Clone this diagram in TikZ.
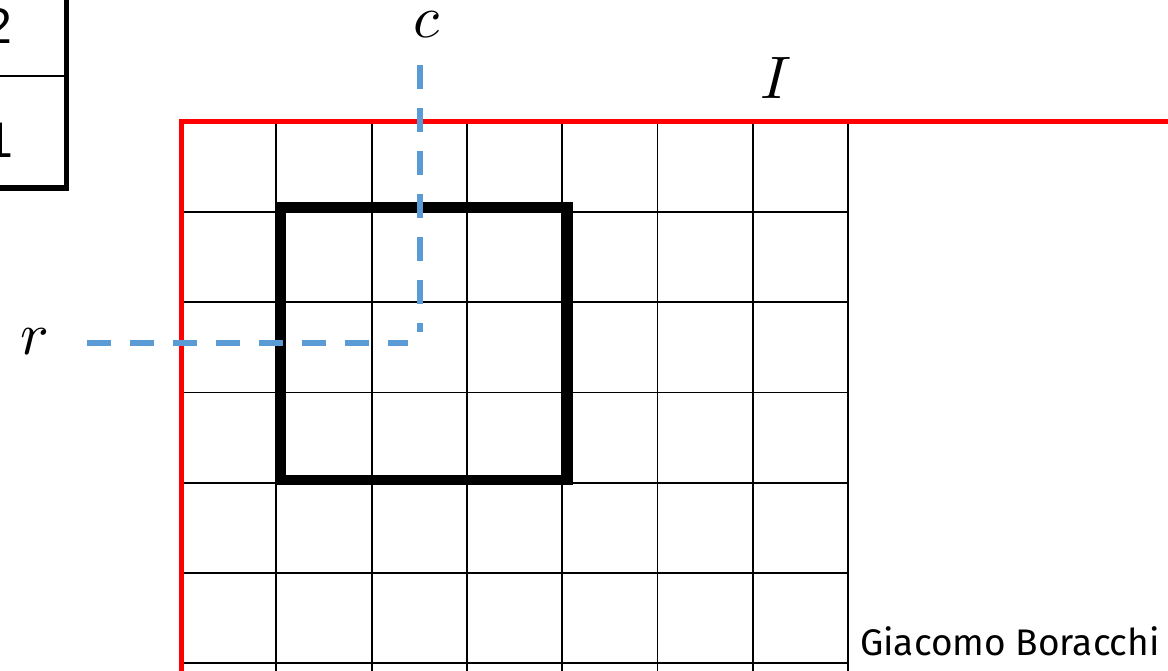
\documentclass[tikz,border=0pt]{standalone}
\usepackage{fontspec}
\usepackage{unicode-math}
\setmathfont{Latin Modern Math}
\usepackage{xcolor}
\usepackage{tikz}
\newfontfamily\namefont{Fira Sans}
\newfontfamily\cellfont{Liberation Sans}
\definecolor{scanblue}{HTML}{5B9BD5}
\tikzset{
  gridline/.style={black, line width=1.8pt},
  imgborder/.style={red, line width=5pt},
  window/.style={black, line width=10pt},
  scanline/.style={scanblue, line width=5.5pt, dash pattern=on 24pt off 19pt},
  mathlabel/.style={font=\fontsize{60}{62}\selectfont, inner sep=0pt},
  cellval/.style={anchor=base east, inner sep=0pt, font=\cellfont\fontsize{50}{52}\selectfont}
}

\begin{document}
\begin{tikzpicture}[x=1pt, y=-1pt]
  \useasboundingbox (0,0) rectangle (1168,671);
  % table at top left (cut by the border)
  \draw[black, line width=2pt] (0,76) -- (66,76);
  \draw[black, line width=5.5pt] (0,188) -- (66.5,188) -- (66.5,0);
  \node[cellval] (vtop) at (12.5,44) {2};
  \node[cellval] (vbot) at (13.5,158) {1};
  % pixel grid
  \foreach \i in {1,...,7}
    \draw[gridline] (181+95.3*\i,122) -- (181+95.3*\i,671);
  \foreach \j in {1,...,6}
    \draw[gridline] (181,122+90.17*\j) -- (848,122+90.17*\j);
  \draw[imgborder] (181,671) -- (181,122) -- (1168,122);
  % window
  \draw[window] (281,207) rectangle (568,480);
  % row / column
  \draw[scanline] (420,65) -- (420,332);
  \draw[scanline] (87,343) -- (408,343);
  \node[mathlabel, anchor=base] (clab) at (427,38) {$c$};
  \node[mathlabel, anchor=base] (ilab) at (776,99) {$I$};
  \node[mathlabel, anchor=base] (rlab) at (34,354) {$r$};
  \node[anchor=base west, inner sep=0pt, font=\namefont\fontsize{37}{40}\selectfont] (author) at (860,655) {Giacomo Boracchi};
\end{tikzpicture}
\end{document}
